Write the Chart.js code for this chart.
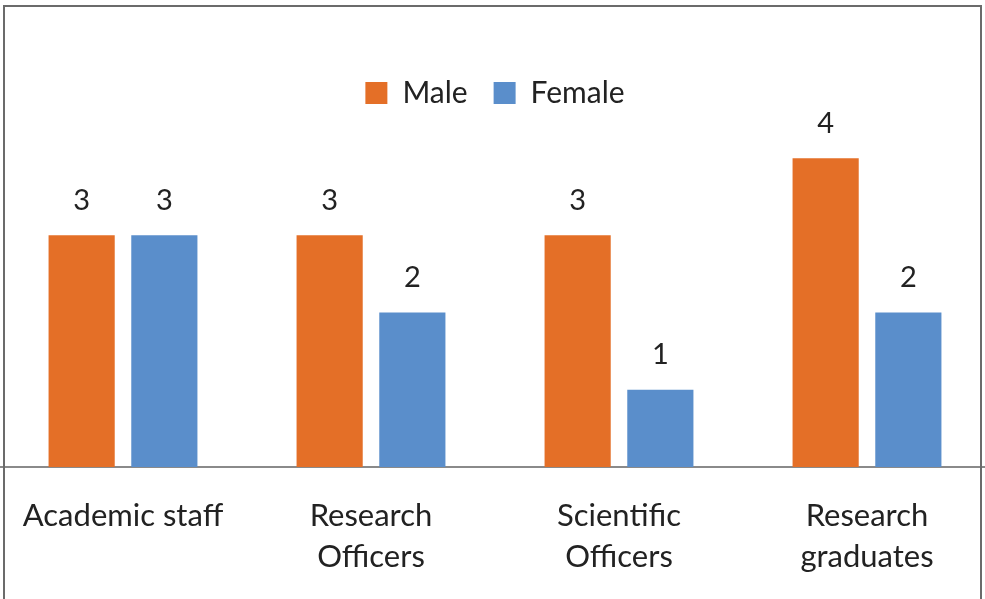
<!DOCTYPE html>
<html>
<head>
<meta charset="utf-8">
<script src="https://cdn.jsdelivr.net/npm/chart.js@4.4.0/dist/chart.umd.min.js"></script>
<style>
  html, body { margin: 0; padding: 0; background: #fff; overflow: hidden; }
  #wrap { position: relative; width: 985px; height: 599px; overflow: hidden; }
  #box { position: absolute; left: -1px; top: 0; width: 992px; height: 599px; }
  #frame { position: absolute; left: 3px; top: 5px; width: 979px; height: 600px;
           border: 2px solid #6b6b6b; border-bottom: none; box-sizing: border-box; pointer-events: none; }
</style>
</head>
<body>
<div id="wrap">
  <div id="box"><canvas id="c"></canvas></div>
  <div id="frame"></div>
</div>
<script>
var categories = ['Academic staff', ['Research', 'Officers'], ['Scientific', 'Officers'], ['Research', 'graduates']];
var male = [3, 3, 3, 4];
var female = [3, 2, 1, 2];
var maleColor = '#E46F27';
var femaleColor = '#5A8ECB';
var fontName = 'Lato, "Open Sans", sans-serif';

// numbers above each bar
var valueLabels = {
  id: 'valueLabels',
  afterDatasetsDraw: function(chart) {
    var ctx = chart.ctx;
    ctx.save();
    ctx.font = '29px ' + fontName;
    ctx.fillStyle = '#222';
    ctx.textAlign = 'center';
    ctx.textBaseline = 'middle';
    chart.data.datasets.forEach(function(ds, i) {
      chart.getDatasetMeta(i).data.forEach(function(bar, j) {
        ctx.fillText(ds.data[j], bar.x, bar.y - 35);
      });
    });
    ctx.restore();
  }
};

var ctx = document.getElementById('c').getContext('2d');
var chart = new Chart(ctx, {
  type: 'bar',
  data: {
    labels: categories,
    datasets: [
      { label: 'Male', data: male, backgroundColor: maleColor },
      { label: 'Female', data: female, backgroundColor: femaleColor }
    ]
  },
  options: {
    responsive: true,
    maintainAspectRatio: false,
    animation: false,
    layout: { padding: { top: 52, bottom: 0, left: 0, right: 0 } },
    datasets: { bar: { categoryPercentage: 0.667, barPercentage: 0.8 } },
    plugins: {
      legend: {
        position: 'top',
        labels: {
          boxWidth: 22, boxHeight: 22, padding: 26,
          color: '#222',
          font: { family: fontName, size: 30 }
        }
      },
      tooltip: { enabled: false }
    },
    scales: {
      x: {
        grid: { display: false },
        border: { display: true, color: '#8a8a8a', width: 2 },
        ticks: {
          color: '#222', padding: 20, maxRotation: 0, autoSkip: false,
          font: { family: fontName, size: 31, lineHeight: '41px' }
        },
        afterFit: function(s) {
          s.height = 132;
          s.paddingLeft = 0;
          s.paddingRight = 0;
        }
      },
      y: {
        display: false,
        min: 0,
        max: 4.52
      }
    }
  },
  plugins: [valueLabels]
});
</script>
</body>
</html>
